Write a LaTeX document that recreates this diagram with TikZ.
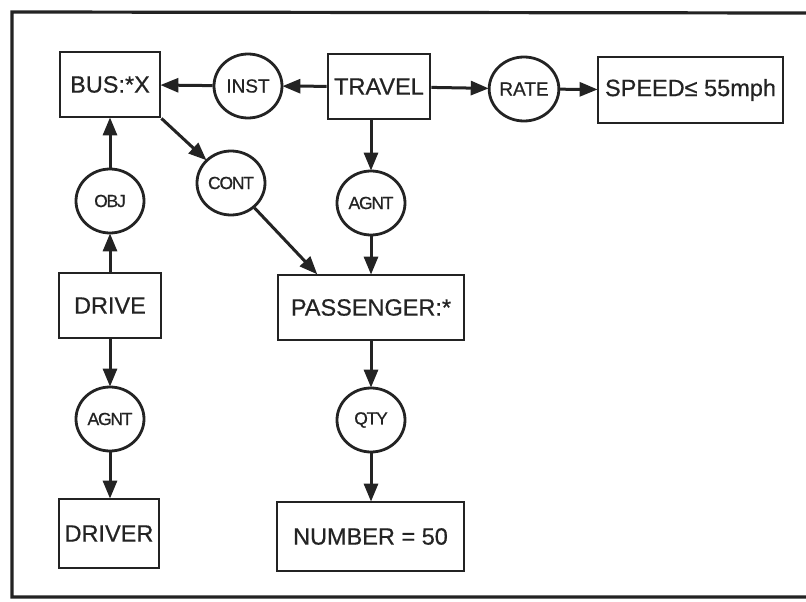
\documentclass[tikz,border=0pt]{standalone}
\usepackage{fontspec}
\setmainfont[FakeBold=0.6]{Liberation Sans}
\newfontfamily\condfont[LetterSpace=-7,FakeBold=0.6]{Liberation Sans}
\usetikzlibrary{arrows.meta,shapes.geometric,calc}
\definecolor{ink}{HTML}{232323}
\tikzset{
  cbox/.style={draw=ink, line width=2.8pt, rectangle, inner sep=0pt, text=ink,
    font=\fontsize{23.5}{25}\selectfont, minimum height=65pt},
  rel/.style={draw=ink, line width=2.8pt, ellipse, inner sep=0pt, text=ink,
    minimum width=68pt, minimum height=64pt, font=\fontsize{19}{20}\selectfont},
  relc/.style={rel, font=\condfont\fontsize{17.5}{19}\selectfont},
  arr/.style={draw=ink, line width=3pt, -{Triangle[length=18pt,width=14pt]}, shorten >=-1pt},
  frame/.style={draw=ink, line width=3.2pt}
}
\begin{document}
\begin{tikzpicture}[x=1pt,y=-1pt]
\useasboundingbox (0,0) rectangle (806,602);
\fill[white] (0,0) rectangle (806,602);
\draw[frame] (806,13) -- (12,12) -- (12,597) -- (806,597);

% concept boxes
\node[cbox, minimum width=100pt] (bus) at (110,84.5) {BUS:*X};
\node[cbox, minimum width=102pt] (travel) at (379,86.5) {TRAVEL};
\node[cbox, minimum width=185pt, minimum height=66pt] (speed) at (690.5,90) {SPEED≤ 55mph};
\node[cbox, minimum width=102pt] (drive) at (110,305.5) {DRIVE};
\node[cbox, minimum width=186pt] (pass) at (371,307.5) {PASSENGER:*};
\node[cbox, minimum width=100pt, minimum height=69pt] (driver) at (109,533.5) {DRIVER};
\node[cbox, minimum width=187pt, minimum height=69pt] (number) at (370.5,536.5) {NUMBER = 50};

% relation circles
\node[rel] (inst) at (248,86) {INST};
\node[rel] (rate) at (524,89) {RATE};
\node[relc] (cont) at (231,183) {CONT};
\node[relc] (obj) at (110,201) {OBJ};
\node[relc] (agnt) at (371,203) {AGNT};
\node[relc] (agnt2) at (110,419) {AGNT};
\node[relc] (qty) at (371,420) {QTY};

% connectors
\draw[arr] (travel) -- (inst);
\draw[arr] (inst) -- (bus);
\draw[arr] (travel) -- (rate);
\draw[arr] (rate) -- (speed);
\draw[arr] (bus.south east) -- (cont);
\draw[arr] (cont) -- ([xshift=40pt]pass.north west);
\draw[arr] (travel.south -| agnt) -- (agnt);
\draw[arr] (agnt) -- (pass.north -| agnt);
\draw[arr] (drive.north -| obj) -- (obj);
\draw[arr] (obj) -- (bus.south -| obj);
\draw[arr] (drive.south -| agnt2) -- (agnt2);
\draw[arr] (agnt2) -- (driver.north -| agnt2);
\draw[arr] (pass.south -| qty) -- (qty);
\draw[arr] (qty) -- (number.north -| qty);
\end{tikzpicture}
\end{document}
